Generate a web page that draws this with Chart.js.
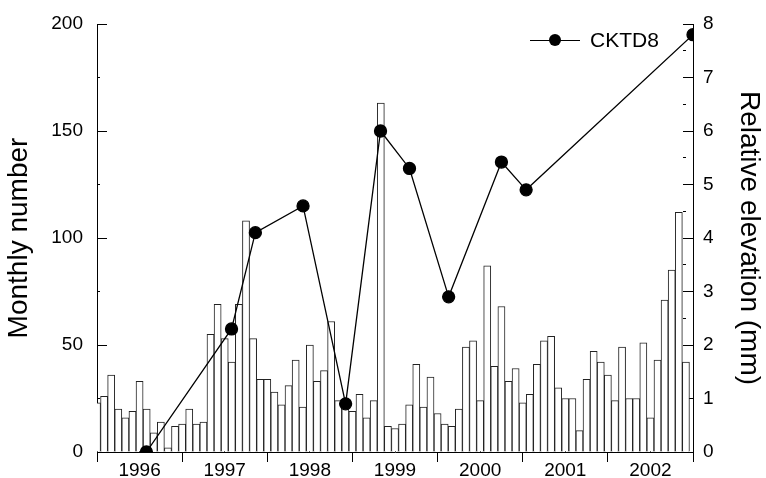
<!DOCTYPE html>
<html>
<head>
<meta charset="utf-8">
<script src="https://cdn.jsdelivr.net/npm/chart.js@4.4.1/dist/chart.umd.min.js"></script>
<style>
  body { margin: 0; background: #fff; }
  #wrap { position: relative; width: 766px; height: 478px; }
  #legend {
    position: absolute; left: 530px; top: 28px; height: 24px;
    display: flex; align-items: center;
    font: 21px "Liberation Sans", Arial, sans-serif; color: #000;
  }
  #legend .sym { position: relative; width: 50px; height: 24px; margin-right: 10px; }
  #legend .sym i { position: absolute; left: 0; right: 0; top: 11.5px; height: 1.3px; background: #000; }
  #legend .sym b { position: absolute; left: 19px; top: 6px; width: 12px; height: 12px; border-radius: 50%; background: #000; }
</style>
</head>
<body>
<div id="wrap">
  <canvas id="chart" width="766" height="478"></canvas>
  <div id="legend"></div>
</div>
<script>
// monthly number, one bar per month from Jan 1996
const startYear = 1996;
const monthly = [
  23, 26, 36, 20, 16, 19, 33, 20, 9, 14, 2, 12,
  13, 20, 13, 14, 55, 69, 53, 42, 69, 108, 53, 34,
  34, 28, 22, 31, 43, 21, 50, 33, 38, 61, 24, 21,
  19, 27, 16, 24, 163, 12, 11, 13, 22, 41, 21, 35,
  18, 13, 12, 20, 49, 52, 24, 87, 40, 68, 33, 39,
  23, 27, 41, 52, 54, 30, 25, 25, 10, 34, 47, 42,
  36, 24, 49, 25, 25, 51, 16, 43, 71, 85, 112, 42
];

// relative elevation survey (decimal year, mm)
const elevYear = [1996.58, 1997.58, 1997.86, 1998.42, 1998.92, 1999.33, 1999.67, 2000.13, 2000.75, 2001.04, 2003.0];
const elevMm = [0, 2.3, 4.1, 4.6, 0.9, 6.0, 5.3, 2.9, 5.42, 4.9, 7.8];

const yearLabels = ["1996", "1997", "1998", "1999", "2000", "2001", "2002"];
const seriesName = "CKTD8";

Chart.defaults.font.family = '"Liberation Sans", Arial, sans-serif';
Chart.defaults.font.size = 19;
Chart.defaults.color = "#000";

const barData = monthly.map((v, i) => ({ x: startYear + i / 12, y: v }));
const lineData = elevYear.map((t, i) => ({ x: t, y: elevMm[i] }));

const clear = "rgba(0,0,0,0)";

// inner ticks: every other one is a long (labelled) tick, the rest are short
// short ones only keep the last 4px next to the axis line
function innerTicks(position, axis, min, max, step) {
  return {
    type: "linear", position: position, axis: axis, min: min, max: max, weight: -1,
    offset: false,
    ticks: { stepSize: step, display: false, autoSkip: false },
    grid: {
      offset: false, drawOnChartArea: false, tickLength: -10, tickWidth: 1, tickColor: "#000",
      tickBorderDash: c => (c.index % 2 ? [0, 7, 4, 0] : [])
    },
    border: { display: false },
    afterFit: s => { if (axis === "x") s.height = 0; else s.width = 0; }
  };
}

new Chart("chart", {
  type: "bar",
  data: {
    datasets: [{
      type: "line",
      label: seriesName,
      data: lineData,
      xAxisID: "x",
      yAxisID: "y1",
      borderColor: "#000",
      borderWidth: 1.3,
      pointRadius: 6,
      pointBackgroundColor: "#000",
      pointBorderColor: "#000",
      order: 0
    }, {
      type: "bar",
      label: "Monthly number",
      data: barData,
      xAxisID: "x",
      yAxisID: "y",
      backgroundColor: "#fff",
      borderColor: "#222",
      borderWidth: 1,
      barPercentage: 1,
      categoryPercentage: 1,
      clip: 0,
      order: 1
    }]
  },
  options: {
    responsive: false,
    animation: false,
    layout: { padding: { top: 24, left: 0, right: 0, bottom: 0 } },
    plugins: { legend: { display: false }, tooltip: { enabled: false } },
    scales: {
      x: {
        type: "linear", position: "bottom", min: 1996, max: 2003, offset: false,
        ticks: {
          stepSize: 0.5, autoSkip: false, maxRotation: 0, padding: -3,
          callback: (v, i) => (i % 2 ? yearLabels[(i - 1) / 2] : "")
        },
        grid: {
          offset: false, drawOnChartArea: false, tickLength: 10, tickWidth: 1,
          tickColor: c => (c.index % 2 ? clear : "#000")
        },
        border: { display: true, color: "#000", width: 1 },
        afterFit: s => { s.height = 26; }
      },
      xm: {
        type: "linear", position: "bottom", min: 1996, max: 2003, offset: false, weight: -1,
        ticks: { stepSize: 0.5, display: false, autoSkip: false },
        grid: {
          offset: false, drawOnChartArea: false, tickLength: -3, tickWidth: 1,
          tickColor: c => (c.index % 2 ? "#000" : clear)
        },
        border: { display: false },
        afterFit: s => { s.height = 0; }
      },
      y: {
        type: "linear", position: "left", min: 0, max: 200,
        ticks: { stepSize: 50, padding: 0 },
        grid: { drawOnChartArea: false, tickLength: 14, tickColor: clear },
        border: { display: true, color: "#000", width: 1 },
        title: { display: true, text: "Monthly number", font: { size: 28 }, padding: { top: 2 } },
        afterFit: s => { s.width = 97; }
      },
      ym: innerTicks("left", "y", 0, 200, 25),
      y1: {
        type: "linear", position: "right", min: 0, max: 8,
        ticks: { stepSize: 1, padding: 0 },
        grid: { drawOnChartArea: false, tickLength: 10, tickColor: clear },
        border: { display: true, color: "#000", width: 1 },
        title: { display: true, text: "Relative elevation (mm)", font: { size: 28 }, padding: { top: 0 } },
        afterFit: s => { s.width = 73; }
      },
      y1m: innerTicks("right", "y", 0, 8, 0.5)
    }
  }
});

// legend drawn as html next to the plot
const ds = { label: seriesName };
document.getElementById("legend").innerHTML =
  '<span class="sym"><i></i><b></b></span><span>' + ds.label + "</span>";
</script>
</body>
</html>
